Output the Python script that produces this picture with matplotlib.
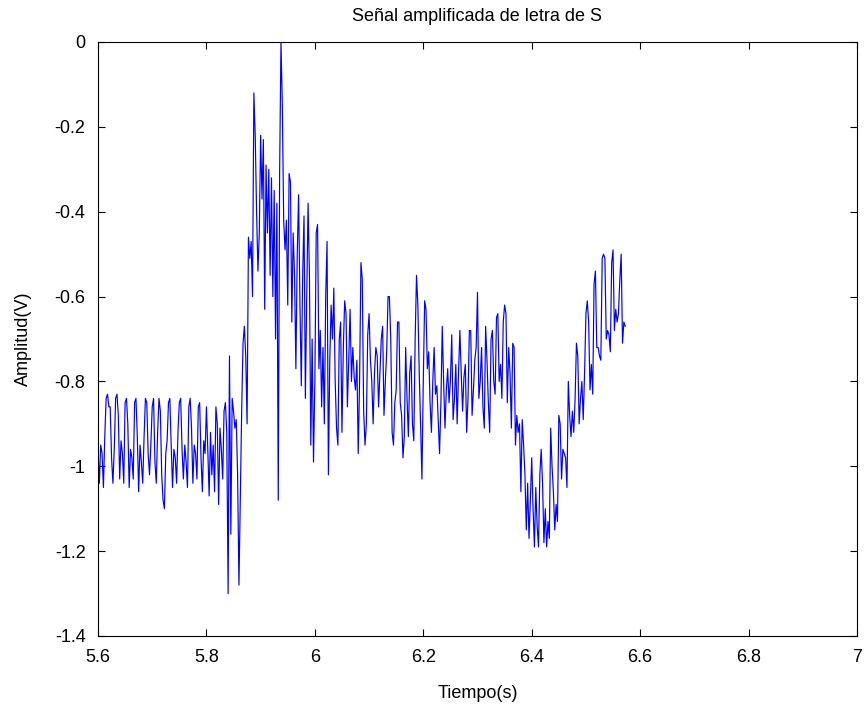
import numpy as np
import matplotlib
matplotlib.use('Agg')
import matplotlib.pyplot as plt

plt.rcParams['font.family'] = ['Liberation Sans', 'DejaVu Sans']
plt.rcParams['axes.unicode_minus'] = False

t0 = 5.6
dt = 0.0025

# 5.600 - 5.850 s : resting level
reposo = [
    -0.96, -1.04, -0.95, -0.97, -1.05, -0.93, -0.84, -0.83, -0.86, -0.86, -0.98, -1.04, -0.96, -0.84, -0.83, -0.88, -1.03, -0.94, -0.97, -1.04,
    -0.85, -0.84, -0.90, -1.05, -0.96, -0.98, -1.03, -0.85, -0.84, -0.93, -1.06, -0.95, -0.99, -1.04, -0.93, -0.84, -0.85, -0.97, -1.02, -0.95,
    -0.86, -0.84, -0.99, -1.04, -0.92, -0.84, -0.87, -1.02, -1.08, -1.10, -0.97, -0.94, -0.85, -0.84, -0.95, -1.05, -0.96, -0.98, -1.04, -0.92,
    -0.85, -0.84, -0.96, -1.03, -0.95, -0.99, -1.05, -0.86, -0.84, -0.91, -1.04, -0.95, -0.97, -1.03, -0.86, -0.85, -0.98, -1.06, -0.94, -0.97,
    -0.86, -0.96, -1.07, -0.92, -1.02, -0.95, -1.06, -0.86, -0.90, -1.09, -0.91, -0.96, -1.03, -0.87, -0.85, -0.92, -1.30, -0.74, -1.16, -0.84,
]
# 5.850 - 6.050 s : burst
rafaga = [
    -0.87, -0.91, -0.89, -1.02, -1.28, -1.07, -0.87, -0.71, -0.67, -0.74, -0.90, -0.46, -0.51, -0.47, -0.60, -0.12, -0.22, -0.40, -0.54, -0.45,
    -0.22, -0.37, -0.23, -0.63, -0.29, -0.45, -0.30, -0.55, -0.32, -0.60, -0.35, -0.70, -0.38, -1.08, -0.31, 0.00, -0.15, -0.42, -0.49, -0.42,
    -0.62, -0.31, -0.33, -0.66, -0.45, -0.55, -0.77, -0.50, -0.36, -0.62, -0.81, -0.55, -0.41, -0.84, -0.60, -0.38, -0.55, -0.95, -0.70, -0.99,
    -0.80, -0.45, -0.43, -0.77, -0.68, -0.86, -0.72, -0.90, -0.60, -0.47, -1.02, -0.75, -0.62, -0.70, -0.58, -0.80, -0.91, -0.95, -0.70, -0.66,
]
# 6.050 - 6.350 s : plateau
meseta = [
    -0.92, -0.72, -0.61, -0.64, -0.86, -0.75, -0.63, -0.80, -0.72, -0.79, -0.82, -0.75, -0.97, -0.80, -0.52, -0.56, -0.87, -0.95, -0.90, -0.69,
    -0.64, -0.75, -0.80, -0.90, -0.78, -0.72, -0.74, -0.86, -0.78, -0.70, -0.67, -0.88, -0.80, -0.73, -0.60, -0.60, -0.70, -0.92, -0.95, -0.85,
    -0.82, -0.66, -0.66, -0.85, -0.88, -0.98, -0.93, -0.72, -0.84, -0.93, -0.78, -0.74, -0.90, -0.94, -0.70, -0.55, -0.62, -0.78, -0.90, -1.03,
    -0.80, -0.61, -0.63, -0.77, -0.73, -0.85, -0.92, -0.80, -0.72, -0.83, -0.81, -0.89, -0.97, -0.85, -0.67, -0.80, -0.91, -0.82, -0.77, -0.85,
    -0.80, -0.69, -0.89, -0.84, -0.76, -0.90, -0.78, -0.68, -0.78, -0.87, -0.79, -0.76, -0.92, -0.84, -0.68, -0.68, -0.88, -0.82, -0.75, -0.72,
    -0.59, -0.84, -0.80, -0.72, -0.86, -0.91, -0.67, -0.75, -0.85, -0.92, -0.70, -0.68, -0.80, -0.83, -0.65, -0.64, -0.80, -0.76, -0.84, -0.66,
]
# 6.350 - 6.500 s : dip
valle = [
    -0.62, -0.64, -0.85, -0.72, -0.78, -0.91, -0.71, -0.72, -0.95, -0.88, -0.92, -0.90, -1.06, -0.89, -0.95, -1.02, -1.15, -1.04, -1.17, -1.08,
    -0.98, -1.10, -1.19, -1.05, -1.14, -1.19, -1.02, -0.96, -1.04, -1.18, -1.10, -1.19, -1.13, -1.17, -0.91, -1.00, -1.06, -1.15, -1.09, -1.13,
    -0.88, -0.90, -1.03, -0.96, -0.97, -0.98, -1.05, -0.80, -0.88, -0.93, -0.87, -0.92, -0.84, -0.71, -0.74, -0.90, -0.84, -0.80, -0.89, -0.78,
]
# 6.500 - 6.575 s : recovery
subida = [
    -0.64, -0.61, -0.66, -0.82, -0.76, -0.83, -0.57, -0.54, -0.72, -0.72, -0.74, -0.75, -0.51, -0.50, -0.51, -0.70, -0.68, -0.69, -0.73, -0.52,
    -0.49, -0.68, -0.63, -0.66, -0.64, -0.56, -0.50, -0.71, -0.66, -0.67,
]

amplitud = np.array(reposo + rafaga + meseta + valle + subida)
tiempo = t0 + dt * np.arange(len(amplitud))

xticks = [5.6, 5.8, 6.0, 6.2, 6.4, 6.6, 6.8, 7.0]
yticks = [0, -0.2, -0.4, -0.6, -0.8, -1.0, -1.2, -1.4]

fig = plt.figure(figsize=(8.67, 7.09), dpi=100)
ax = fig.add_axes([98/867, 1 - 636/709, 759/867, 594/709])

ax.plot(tiempo, amplitud, color='#0000FF', lw=0.85)

ax.set_xlim(5.6, 7.0)
ax.set_ylim(-1.4, 0)
ax.set_xticks(xticks)
ax.set_yticks(yticks)
ax.set_xticklabels(['%g' % v for v in xticks])
ax.set_yticklabels(['%g' % v for v in yticks])
ax.tick_params(direction='in', top=True, right=True, length=5, width=0.8,
               labelsize=13, colors='black')
ax.tick_params(axis='x', pad=9)
ax.tick_params(axis='y', pad=9)
for s in ax.spines.values():
    s.set_linewidth(0.8)

ax.set_title('Señal amplificada de letra de S', fontsize=13, pad=15)
ax.set_xlabel('Tiempo(s)', fontsize=13, labelpad=14)
ax.set_ylabel('Amplitud(V)', fontsize=13, labelpad=16)

fig.savefig('out.png', dpi=100, facecolor='white')
